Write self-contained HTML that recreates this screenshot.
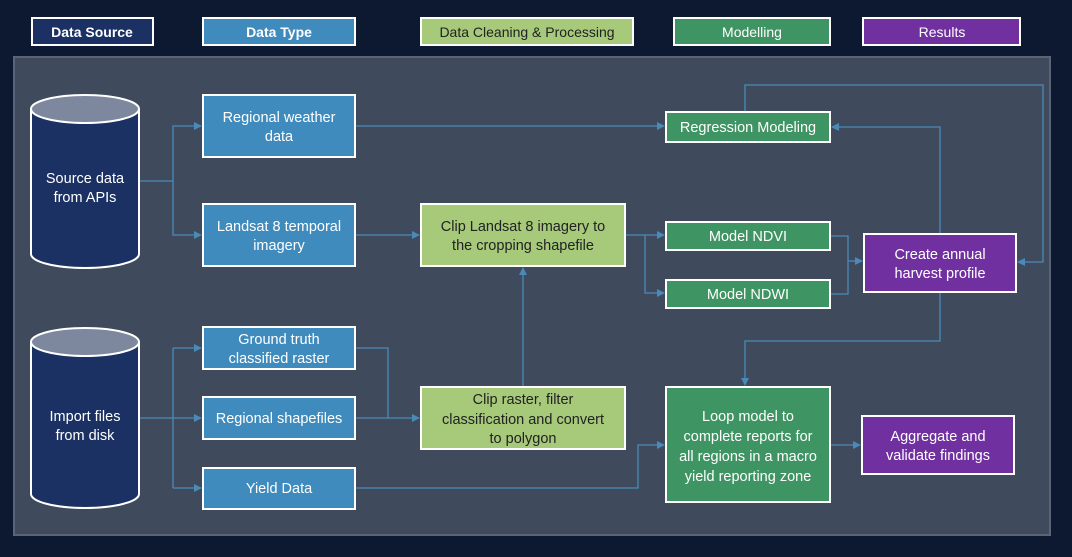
<!DOCTYPE html>
<html><head><meta charset="utf-8"><style>
html,body{margin:0;padding:0;background:#0c1930;}
svg{display:block;font-family:"Liberation Sans",sans-serif;}
</style></head><body>
<svg width="1072" height="557" viewBox="0 0 1072 557" xmlns="http://www.w3.org/2000/svg">
<defs>
<marker id="a" markerWidth="8" markerHeight="8" refX="7" refY="4" orient="auto" markerUnits="userSpaceOnUse">
<path d="M0,0 L8,4 L0,8 z" fill="#4a8ab8"/></marker>
</defs>
<rect width="1072" height="557" fill="#0c1930"/>
<rect x="14" y="57" width="1036" height="478" fill="#3f4a5c" stroke="#5a6478" stroke-width="2"/>

<g font-size="14" text-anchor="middle">
<rect x="32" y="18" width="121" height="27" fill="#1b3163" stroke="#fff" stroke-width="2"/>
<text x="92" y="37" fill="#fff" font-weight="bold">Data Source</text>
<rect x="203" y="18" width="152" height="27" fill="#3f8bbd" stroke="#fff" stroke-width="2"/>
<text x="279" y="37" fill="#fff" font-weight="bold">Data Type</text>
<rect x="421" y="18" width="212" height="27" fill="#a6c97a" stroke="#fff" stroke-width="2"/>
<text x="527" y="37" fill="#222">Data Cleaning &amp; Processing</text>
<rect x="674" y="18" width="156" height="27" fill="#3e9462" stroke="#fff" stroke-width="2"/>
<text x="752" y="37" fill="#fff">Modelling</text>
<rect x="863" y="18" width="157" height="27" fill="#7030a0" stroke="#fff" stroke-width="2"/>
<text x="942" y="37" fill="#fff">Results</text>
</g>

<g fill="none" stroke="#4a8ab8" stroke-width="1.3">
<path d="M139,181 H173 V126 H201" marker-end="url(#a)"/>
<path d="M173,181 V235 H201" marker-end="url(#a)"/>
<path d="M355,126 H664" marker-end="url(#a)"/>
<path d="M355,235 H419" marker-end="url(#a)"/>
<path d="M625,235 H664" marker-end="url(#a)"/>
<path d="M645,235 V293 H664" marker-end="url(#a)"/>
<path d="M830,236 H848 V294 H830"/>
<path d="M848,261 H862" marker-end="url(#a)"/>
<path d="M940,234 V127 H832" marker-end="url(#a)"/>
<path d="M745,112 V85 H1043 V262 H1018" marker-end="url(#a)"/>
<path d="M940,292 V341 H745 V385" marker-end="url(#a)"/>
<path d="M139,418 H173 M173,348 V488"/>
<path d="M173,348 H201" marker-end="url(#a)"/>
<path d="M173,418 H201" marker-end="url(#a)"/>
<path d="M173,488 H201" marker-end="url(#a)"/>
<path d="M355,348 H388 V418"/>
<path d="M355,418 H419" marker-end="url(#a)"/>
<path d="M523,387 V268" marker-end="url(#a)"/>
<path d="M355,488 H638 V445 H664" marker-end="url(#a)"/>
<path d="M830,445 H860" marker-end="url(#a)"/>
</g>

<g stroke="#fff" stroke-width="2">
<path d="M31,109 V254 A54,14 0 0 0 139,254 V109" fill="#1b3163"/>
<ellipse cx="85" cy="109" rx="54" ry="14" fill="#7d879e"/>
<path d="M31,342 V494 A54,14 0 0 0 139,494 V342" fill="#1b3163"/>
<ellipse cx="85" cy="342" rx="54" ry="14" fill="#7d879e"/>
<g fill="#3f8bbd">
<rect x="203" y="95" width="152" height="62"/>
<rect x="203" y="204" width="152" height="62"/>
<rect x="203" y="327" width="152" height="42"/>
<rect x="203" y="397" width="152" height="42"/>
<rect x="203" y="468" width="152" height="41"/>
</g>
<g fill="#a6c97a">
<rect x="421" y="204" width="204" height="62"/>
<rect x="421" y="387" width="204" height="62"/>
</g>
<g fill="#3e9462">
<rect x="666" y="112" width="164" height="30"/>
<rect x="666" y="222" width="164" height="28"/>
<rect x="666" y="280" width="164" height="28"/>
<rect x="666" y="387" width="164" height="115"/>
</g>
<g fill="#7030a0">
<rect x="864" y="234" width="152" height="58"/>
<rect x="862" y="416" width="152" height="58"/>
</g>
</g>

<g font-size="14.5" text-anchor="middle" fill="#fff">
<text x="85" y="183">Source data</text><text x="85" y="202">from APIs</text>
<text x="85" y="421">Import files</text><text x="85" y="440">from disk</text>
<text x="279" y="122">Regional weather</text><text x="279" y="141">data</text>
<text x="279" y="231">Landsat 8 temporal</text><text x="279" y="250">imagery</text>
<text x="279" y="344">Ground truth</text><text x="279" y="363">classified raster</text>
<text x="279" y="423">Regional shapefiles</text>
<text x="279" y="493">Yield Data</text>
<g fill="#222">
<text x="523" y="231">Clip Landsat 8 imagery to</text><text x="523" y="250">the cropping shapefile</text>
<text x="523" y="404">Clip raster, filter</text><text x="523" y="424">classification and convert</text><text x="523" y="443">to polygon</text>
</g>
<text x="748" y="132">Regression Modeling</text>
<text x="748" y="241">Model NDVI</text>
<text x="748" y="299">Model NDWI</text>
<text x="748" y="421">Loop model to</text><text x="748" y="441">complete reports for</text><text x="748" y="461">all regions in a macro</text><text x="748" y="481">yield reporting zone</text>
<text x="940" y="259">Create annual</text><text x="940" y="278">harvest profile</text>
<text x="938" y="441">Aggregate and</text><text x="938" y="460">validate findings</text>
</g>
</svg>
</body></html>
